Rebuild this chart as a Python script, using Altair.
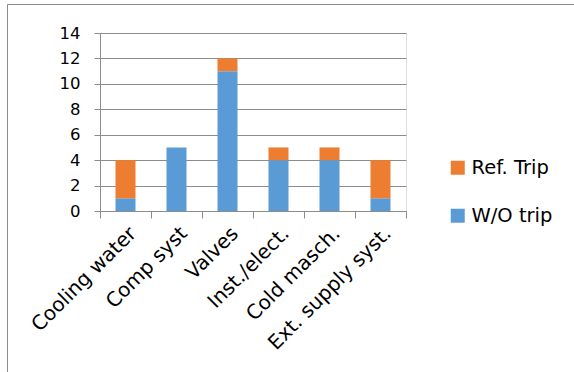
import altair as alt
import pandas as pd

categories = ["Cooling water", "Comp syst", "Valves", "Inst./elect.", "Cold masch.", "Ext. supply syst."]
wo_trip = [1, 5, 11, 4, 4, 1]
ref_trip = [3, 0, 1, 1, 1, 3]
series_names = ["Ref. Trip", "W/O trip"]
series_colors = ["#ED7D31", "#5B9BD5"]
y_ticks = [0, 2, 4, 6, 8, 10, 12, 14]

rows = []
for cat, w, r in zip(categories, wo_trip, ref_trip):
    rows.append({"category": cat, "series": "W/O trip", "value": w})
    rows.append({"category": cat, "series": "Ref. Trip", "value": r})
df = pd.DataFrame(rows)

FONT = "DejaVu Sans"
GREY = "#8c8c8c"

bars = alt.Chart(df).mark_bar(size=20).encode(
    x=alt.X(
        "category:N",
        sort=categories,
        scale=alt.Scale(paddingInner=0, paddingOuter=0),
        axis=alt.Axis(
            title=None,
            labelAngle=-45,
            labelAlign="right",
            labelBaseline="top",
            labelFont=FONT,
            labelFontSize=20,
            labelColor="black",
            labelPadding=5,
            tickBand="extent",
            tickSize=7,
            tickColor=GREY,
            domainColor=GREY,
            grid=False,
        ),
    ),
    y=alt.Y(
        "value:Q",
        stack="zero",
        scale=alt.Scale(domain=[0, 14], nice=False),
        axis=alt.Axis(
            title=None,
            values=y_ticks,
            labelFont=FONT,
            labelFontSize=16.5,
            labelColor="black",
            labelPadding=14,
            tickSize=6,
            tickColor=GREY,
            domainColor=GREY,
            gridColor=GREY,
            gridWidth=1,
        ),
    ),
    color=alt.Color(
        "series:N",
        scale=alt.Scale(domain=series_names, range=series_colors),
        legend=alt.Legend(
            title=None,
            orient="none",
            legendX=348,
            legendY=125,
            symbolType="square",
            symbolSize=196,
            symbolStrokeWidth=0,
            labelFont=FONT,
            labelFontSize=19.5,
            labelColor="black",
            labelOffset=4,
            rowPadding=27,
            padding=0,
        ),
    ),
    order=alt.Order("series:N", sort="descending"),
)

# outer frame around the whole chart
frame = alt.Chart(pd.DataFrame({"k": [0]})).mark_rect(
    fill=None, fillOpacity=0, stroke=GREY, strokeWidth=1
).encode(
    x=alt.value(-92.5), x2=alt.value(490),
    y=alt.value(-28.5), y2=alt.value(360),
)

chart = alt.layer(frame, bars).properties(
    width=306,
    height=178,
    autosize=alt.AutoSizeParams(type="none"),
    padding={"left": 100, "top": 33, "right": 168, "bottom": 161},
).configure_view(stroke=None).configure(background="white")

chart.save("out.html", embed_options={"renderer": "svg", "actions": False})
